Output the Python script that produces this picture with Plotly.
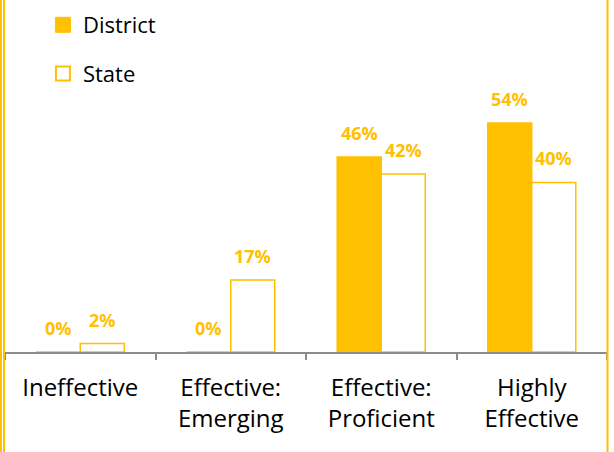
import plotly.graph_objects as go

categories = ["Ineffective", "Effective:<br>Emerging", "Effective:<br>Proficient", "Highly<br>Effective"]
district = [0, 0, 46, 54]
state = [2, 17, 42, 40]
district_labels = ["0%", "0%", "46%", "54%"]
state_labels = ["2%", "17%", "42%", "40%"]

GOLD = "#FFC000"
FONT = "Open Sans"

fig = go.Figure()
fig.add_trace(go.Bar(name="District", x=categories, y=district,
                     marker=dict(color=GOLD, line=dict(color=GOLD, width=1.5)),
                     showlegend=False))
fig.add_trace(go.Bar(name="State", x=categories, y=state,
                     marker=dict(color="white", line=dict(color=GOLD, width=1.5)),
                     showlegend=False))
# legend entries
fig.add_trace(go.Scatter(name="District", x=[None], y=[None], mode="markers",
                         marker=dict(symbol="square", size=15, color=GOLD,
                                     line=dict(color=GOLD, width=1)),
                         legendgroup="d"))
fig.add_trace(go.Scatter(name="State", x=[None], y=[None], mode="markers",
                         marker=dict(symbol="square", size=14, color="white",
                                     line=dict(color=GOLD, width=2)),
                         legendgroup="s"))

for c, v, t in zip(categories, district, district_labels):
    fig.add_annotation(x=c, y=v, text=f"<b>{t}</b>", showarrow=False,
                       xshift=-22, yshift=24, yanchor="middle",
                       font=dict(family=FONT, size=18, color=GOLD))
for c, v, t in zip(categories, state, state_labels):
    fig.add_annotation(x=c, y=v, text=f"<b>{t}</b>", showarrow=False,
                       xshift=22, yshift=24, yanchor="middle",
                       font=dict(family=FONT, size=18, color=GOLD))

# frame lines
for x0, w in [(-4/602, 2), (-1/602, 2), (602.5/602, 2)]:
    fig.add_shape(type="line", xref="paper", yref="paper", x0=x0, x1=x0,
                  y0=-100/352, y1=1, line=dict(color=GOLD, width=w))

fig.update_layout(
    width=614, height=452,
    margin=dict(l=5, r=7, t=0, b=100, autoexpand=False),
    paper_bgcolor="white", plot_bgcolor="white",
    barmode="group", bargap=0.415, bargroupgap=0,
    font=dict(family=FONT, size=22, color="black"),
    legend=dict(x=0.063, y=1 - 4/352, xanchor="left", yanchor="top",
                font=dict(size=22), tracegroupgap=17, traceorder="grouped",
                bgcolor="rgba(0,0,0,0)"),
    xaxis=dict(showline=True, linecolor="#8c8c8c", linewidth=1.5,
               ticks="outside", tickson="boundaries", ticklen=6, tickcolor="#8c8c8c",
               tickwidth=1.5, tickfont=dict(family=FONT, size=24, color="black"),
               ticklabelstandoff=13, automargin=False, fixedrange=True),
    yaxis=dict(visible=False, range=[0, 352/4.24], fixedrange=True),
)

fig.write_html("out.html", config={"displayModeBar": False},
               post_script="document.body.style.margin='0';document.body.style.padding='0';")
